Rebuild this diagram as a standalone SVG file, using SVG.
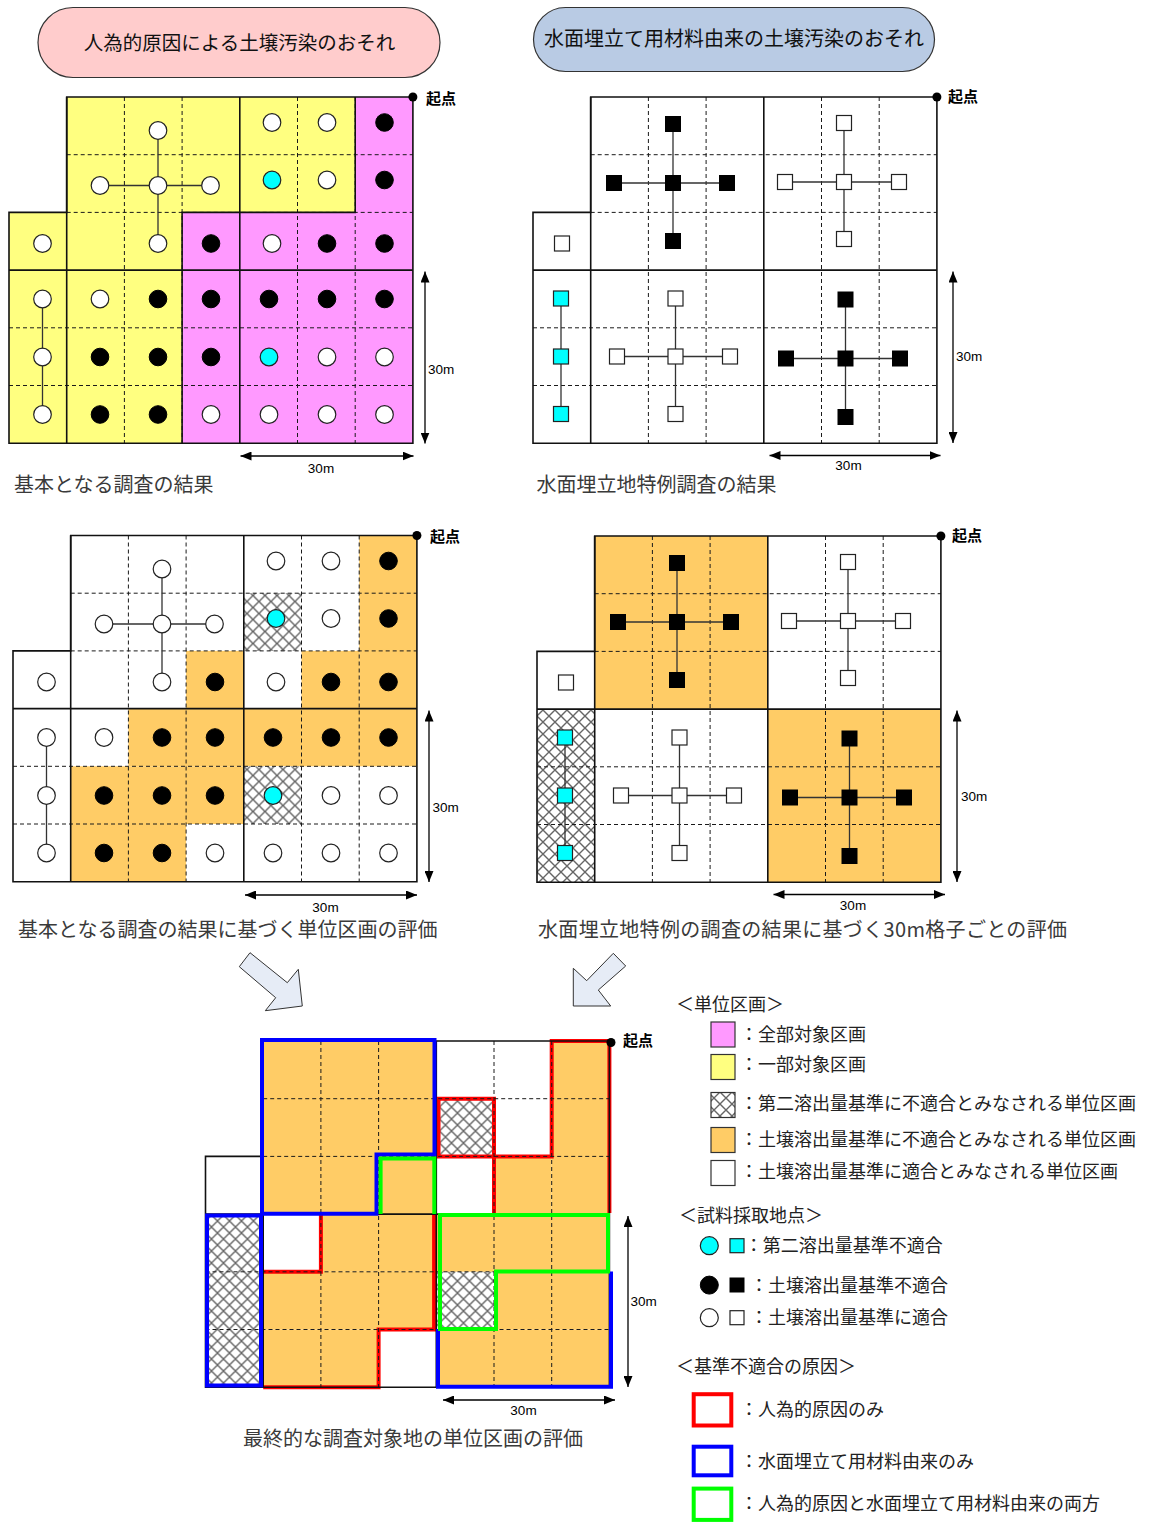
<svg xmlns="http://www.w3.org/2000/svg" width="1152" height="1528" viewBox="0 0 1152 1528">
<style>
.d{fill:none;stroke:#1a1a1a;stroke-width:1;stroke-dasharray:4 3}
.s{fill:none;stroke:#111;stroke-width:1.6}
.cn{fill:none;stroke:#333;stroke-width:1.3}
.w{fill:#fff;stroke:#222;stroke-width:1.2}
.k{fill:#000;stroke:#000;stroke-width:1}
.cy{fill:#00FFFF;stroke:#222;stroke-width:1.2}
.or{fill:#FFCC66}
.ht{fill:url(#hatch)}
.cr{fill:none;stroke:#FF0000;stroke-width:4}
.cb{fill:none;stroke:#0000FF;stroke-width:4}
.cg{fill:none;stroke:#00FF00;stroke-width:4}
.dim{stroke:#000;stroke-width:1.3;marker-start:url(#ah);marker-end:url(#ah)}
.m{font-family:"Liberation Sans",Arial,sans-serif;font-size:13.5px;fill:#000}
.ori{font-family:"Noto Sans CJK JP",sans-serif;font-size:15px;font-weight:bold;fill:#000}
.cap{font-family:"Noto Sans CJK JP",sans-serif;font-size:20px;fill:#3a3a3a}
.ttl{font-family:"Noto Sans CJK JP",sans-serif;font-size:19.5px;fill:#111;text-anchor:middle}
.lg{font-family:"Noto Sans CJK JP",sans-serif;font-size:18px;fill:#222}
.sw{stroke:#333;stroke-width:1.2}
.blk{fill:#E6ECF6;stroke:#333;stroke-width:1}
</style>
<defs>
<pattern id="hatch" patternUnits="userSpaceOnUse" width="12" height="12">
<rect width="12" height="12" fill="#fff"/>
<path d="M-3,-3L15,15M15,-3L-3,15" stroke="#666" stroke-width="1.4"/>
</pattern>
<marker id="ah" markerUnits="userSpaceOnUse" markerWidth="11" markerHeight="9" refX="11" refY="4.5" orient="auto-start-reverse">
<path d="M0,0L11,4.5L0,9Z" fill="#000"/>
</marker>
<g id="grid">
<path class="d" d="M115.4,0V346.2M173.1,0V346.2M288.5,0V346.2M346.2,0V346.2M57.7,57.7H403.9M57.7,115.4H403.9M0,230.8H403.9M0,288.5H403.9"/>
<path class="s" d="M57.7,0V346.2M230.8,0V346.2M0,173.1H403.9"/>
<polygon class="s" points="57.7,0 403.9,0 403.9,346.2 0,346.2 0,115.4 57.7,115.4"/>
</g>
<polygon id="outline" points="57.7,0 403.9,0 403.9,346.2 0,346.2 0,115.4 57.7,115.4"/>
<g id="ptsA">
<path class="cn" d="M149,33.5V146.5M91,88.5H201.5M33.5,202V317.5"/>
<circle class="w" cx="149" cy="33.5" r="8.8"/>
<circle class="w" cx="91" cy="88.5" r="8.8"/>
<circle class="w" cx="149" cy="88.5" r="8.8"/>
<circle class="w" cx="201.5" cy="88.5" r="8.8"/>
<circle class="w" cx="149" cy="146.5" r="8.8"/>
<circle class="w" cx="263" cy="25.5" r="8.8"/>
<circle class="w" cx="318" cy="25.5" r="8.8"/>
<circle class="k" cx="375.5" cy="25.5" r="8.8"/>
<circle class="cy" cx="263" cy="83" r="8.8"/>
<circle class="w" cx="318" cy="83" r="8.8"/>
<circle class="k" cx="375.5" cy="83" r="8.8"/>
<circle class="w" cx="33.5" cy="146.5" r="8.8"/>
<circle class="k" cx="202" cy="146.5" r="8.8"/>
<circle class="w" cx="263" cy="146.5" r="8.8"/>
<circle class="k" cx="318" cy="146.5" r="8.8"/>
<circle class="k" cx="375.5" cy="146.5" r="8.8"/>
<circle class="w" cx="33.5" cy="202" r="8.8"/>
<circle class="w" cx="91" cy="202" r="8.8"/>
<circle class="k" cx="149" cy="202" r="8.8"/>
<circle class="k" cx="202" cy="202" r="8.8"/>
<circle class="k" cx="260" cy="202" r="8.8"/>
<circle class="k" cx="318" cy="202" r="8.8"/>
<circle class="k" cx="375.5" cy="202" r="8.8"/>
<circle class="w" cx="33.5" cy="260" r="8.8"/>
<circle class="k" cx="91" cy="260" r="8.8"/>
<circle class="k" cx="149" cy="260" r="8.8"/>
<circle class="k" cx="202" cy="260" r="8.8"/>
<circle class="cy" cx="260" cy="260" r="8.8"/>
<circle class="w" cx="318" cy="260" r="8.8"/>
<circle class="w" cx="375.5" cy="260" r="8.8"/>
<circle class="w" cx="33.5" cy="317.5" r="8.8"/>
<circle class="k" cx="91" cy="317.5" r="8.8"/>
<circle class="k" cx="149" cy="317.5" r="8.8"/>
<circle class="w" cx="202" cy="317.5" r="8.8"/>
<circle class="w" cx="260" cy="317.5" r="8.8"/>
<circle class="w" cx="318" cy="317.5" r="8.8"/>
<circle class="w" cx="375.5" cy="317.5" r="8.8"/>
</g>
<g id="ptsB">
<path class="cn" d="M140,27V144M81,86H194M311,26V142M252,85H366M28,201.5V317M142.5,201.5V317M84,259.5H197M312.5,202.5V320M253,261.5H367"/>
<rect class="k" x="132.5" y="19.5" width="15" height="15"/>
<rect class="k" x="73.5" y="78.5" width="15" height="15"/>
<rect class="k" x="132.5" y="78.5" width="15" height="15"/>
<rect class="k" x="186.5" y="78.5" width="15" height="15"/>
<rect class="k" x="132.5" y="136.5" width="15" height="15"/>
<rect class="k" x="305" y="195" width="15" height="15"/>
<rect class="k" x="245.5" y="254" width="15" height="15"/>
<rect class="k" x="305" y="254" width="15" height="15"/>
<rect class="k" x="359.5" y="254" width="15" height="15"/>
<rect class="k" x="305" y="312.5" width="15" height="15"/>
<rect class="w" x="303.5" y="18.5" width="15" height="15"/>
<rect class="w" x="244.5" y="77.5" width="15" height="15"/>
<rect class="w" x="303.5" y="77.5" width="15" height="15"/>
<rect class="w" x="358.5" y="77.5" width="15" height="15"/>
<rect class="w" x="303.5" y="134.5" width="15" height="15"/>
<rect class="w" x="21.5" y="139" width="15" height="15"/>
<rect class="w" x="135" y="194" width="15" height="15"/>
<rect class="w" x="76.5" y="252" width="15" height="15"/>
<rect class="w" x="135" y="252" width="15" height="15"/>
<rect class="w" x="189.5" y="252" width="15" height="15"/>
<rect class="w" x="135" y="309.5" width="15" height="15"/>
<rect class="cy" x="20.5" y="194" width="15" height="15"/>
<rect class="cy" x="20.5" y="252" width="15" height="15"/>
<rect class="cy" x="20.5" y="309.5" width="15" height="15"/>
</g>
</defs>
<rect width="1152" height="1528" fill="#fff"/>

<g id="title1">
<rect x="38" y="7.5" width="402" height="70" rx="35" fill="#FFCCCC" stroke="#333" stroke-width="1.2"/>
<text class="ttl" x="239.5" y="49.5">人為的原因による土壌汚染のおそれ</text>
</g>
<g id="title2">
<rect x="533.5" y="7.5" width="401" height="64" rx="32" fill="#B9CBE4" stroke="#333" stroke-width="1.2"/>
<text class="ttl" x="734" y="46" style="font-size:20px">水面埋立て用材料由来の土壌汚染のおそれ</text>
</g>

<g id="panel1">
<g transform="translate(9,97)">
<polygon points="57.7,0 346.2,0 346.2,115.4 173.1,115.4 173.1,346.2 0,346.2 0,115.4 57.7,115.4" fill="#FFFF80"/>
<polygon points="346.2,0 403.9,0 403.9,346.2 173.1,346.2 173.1,115.4 346.2,115.4" fill="#FF99FF"/>
<use href="#grid"/>
<path class="s" d="M173.1,346.2V115.4H346.2V0"/>
<use href="#ptsA"/>
<circle cx="403.9" cy="0" r="4.5" fill="#000"/>
</g>
<text class="ori" x="426" y="104">起点</text>
<line class="dim" x1="425" y1="271.5" x2="425" y2="443.5"/>
<line class="dim" x1="240.5" y1="456" x2="413.5" y2="456"/>
<text class="m" x="428" y="374">30m</text>
<text class="m" x="321" y="473" text-anchor="middle">30m</text>
<text class="cap" x="14" y="492">基本となる調査の結果</text>
</g>

<g id="panel2">
<g transform="translate(533,97)">
<use href="#outline" fill="#fff"/>
<use href="#grid"/>
<use href="#ptsB"/>
<circle cx="403.9" cy="0" r="4.5" fill="#000"/>
</g>
<text class="ori" x="948" y="102">起点</text>
<line class="dim" x1="953" y1="271.5" x2="953" y2="443"/>
<line class="dim" x1="769.5" y1="455.5" x2="940.5" y2="455.5"/>
<text class="m" x="956" y="361">30m</text>
<text class="m" x="848.5" y="470" text-anchor="middle">30m</text>
<text class="cap" x="536.5" y="492">水面埋立地特例調査の結果</text>
</g>

<g id="panel3">
<g transform="translate(13,535.5)">
<use href="#outline" fill="#fff"/>
<rect class="or" x="346.2" y="0" width="57.7" height="173.1"/>
<rect class="or" x="173.1" y="115.4" width="57.7" height="57.7"/>
<rect class="or" x="288.5" y="115.4" width="57.7" height="57.7"/>
<rect class="or" x="115.4" y="173.1" width="288.5" height="57.7"/>
<rect class="or" x="57.7" y="230.8" width="173.1" height="57.7"/>
<rect class="or" x="57.7" y="288.5" width="115.4" height="57.7"/>
<rect class="ht" x="230.8" y="57.7" width="57.7" height="57.7"/>
<rect class="ht" x="230.8" y="230.8" width="57.7" height="57.7"/>
<use href="#grid"/>
<use href="#ptsA"/>
<circle cx="403.9" cy="0" r="4.5" fill="#000"/>
</g>
<text class="ori" x="430" y="542">起点</text>
<line class="dim" x1="429" y1="710.5" x2="429" y2="882"/>
<line class="dim" x1="245" y1="895" x2="417" y2="895"/>
<text class="m" x="432.5" y="812">30m</text>
<text class="m" x="325.5" y="911.5" text-anchor="middle">30m</text>
<text class="cap" x="18" y="936.5">基本となる調査の結果に基づく単位区画の評価</text>
</g>

<g id="panel4">
<g transform="translate(537,536)">
<use href="#outline" fill="#fff"/>
<rect class="or" x="57.7" y="0" width="173.1" height="173.1"/>
<rect class="or" x="230.8" y="173.1" width="173.1" height="173.1"/>
<rect class="ht" x="0" y="173.1" width="57.7" height="173.1"/>
<use href="#grid"/>
<use href="#ptsB"/>
<circle cx="403.9" cy="0" r="4.5" fill="#000"/>
</g>
<text class="ori" x="952" y="541">起点</text>
<line class="dim" x1="957" y1="710.5" x2="957" y2="882"/>
<line class="dim" x1="773.5" y1="894.5" x2="945" y2="894.5"/>
<text class="m" x="961" y="801">30m</text>
<text class="m" x="853" y="910" text-anchor="middle">30m</text>
<text class="cap" x="538" y="936.5" textLength="529">水面埋立地特例の調査の結果に基づく30m格子ごとの評価</text>
</g>

<g id="arrow-left">
<polygon class="blk" points="250,952.7 287.3,982.7 298.3,969.3 302.3,1006 265.3,1010.7 275.7,997.7 239.3,966.7"/>
</g>
<g id="arrow-right">
<polygon class="blk" points="613.3,953.3 625.7,966 598.3,990 610.7,1006 573.3,1006 573.3,968.3 586.7,980.7"/>
</g>

<g id="panel5">
<g transform="translate(205.5,1041)">
<use href="#outline" fill="#fff"/>
<rect class="or" x="57.7" y="0" width="173.1" height="173.1"/>
<rect class="or" x="346.2" y="0" width="57.7" height="173.1"/>
<rect class="or" x="288.5" y="115.4" width="57.7" height="57.7"/>
<rect class="or" x="115.4" y="173.1" width="288.5" height="57.7"/>
<rect class="or" x="57.7" y="230.8" width="173.1" height="57.7"/>
<rect class="or" x="288.5" y="230.8" width="115.4" height="57.7"/>
<rect class="or" x="57.7" y="288.5" width="115.4" height="57.7"/>
<rect class="or" x="230.8" y="288.5" width="173.1" height="57.7"/>
<rect class="ht" x="230.8" y="57.7" width="57.7" height="57.7"/>
<rect class="ht" x="0" y="173.1" width="57.7" height="173.1"/>
<rect class="ht" x="230.8" y="230.8" width="57.7" height="57.7"/>
<g id="red-outlines">
<path class="cr" d="M288.5,172V57.7H233V115.4H346.2V0H403.9V172"/>
<path class="cr" d="M115.4,174V230.8H57.7M57.7,346.2H173.1V288.5H228.6V174"/>
</g>
<use href="#grid"/>
<g id="blue-outlines">
<path class="cb" d="M56.5,172.8V-1H229V113.4H171V172.8Z"/>
<rect class="cb" x="1.5" y="174.5" width="54" height="170"/>
<path class="cb" d="M405.5,230.5V345.7H232.5V288"/>
</g>
<g id="green-outlines">
<path class="cg" d="M175.1,173.1V117.4H228.8V173.1"/>
<path class="cg" d="M234.5,174H402.5V230.5H290.5V288H234.5Z"/>
</g>
<circle cx="405.5" cy="1.5" r="4.5" fill="#000"/>
</g>
<text class="ori" x="623" y="1046">起点</text>
<line class="dim" x1="628" y1="1216" x2="628" y2="1387"/>
<line class="dim" x1="443" y1="1400" x2="615" y2="1400"/>
<text class="m" x="630.5" y="1305.5">30m</text>
<text class="m" x="523.5" y="1415" text-anchor="middle">30m</text>
<text class="cap" x="243" y="1445.5">最終的な調査対象地の単位区画の評価</text>
</g>

<g id="legend">
<text class="lg" x="676" y="1011">＜単位区画＞</text>
<rect class="sw" x="711" y="1022" width="24" height="25" fill="#FF99FF"/>
<text class="lg" x="740" y="1041">：全部対象区画</text>
<rect class="sw" x="711" y="1054.5" width="24" height="25" fill="#FFFF80"/>
<text class="lg" x="740" y="1070.5">：一部対象区画</text>
<rect class="sw ht" x="711" y="1092.5" width="24" height="25"/>
<text class="lg" x="740" y="1109.5">：第二溶出量基準に不適合とみなされる単位区画</text>
<rect class="sw" x="711" y="1127.5" width="24" height="25" fill="#FFCC66"/>
<text class="lg" x="740" y="1145.5">：土壌溶出量基準に不適合とみなされる単位区画</text>
<rect class="sw" x="711" y="1160.5" width="24" height="25" fill="#fff"/>
<text class="lg" x="740" y="1178">：土壌溶出量基準に適合とみなされる単位区画</text>
<text class="lg" x="679" y="1222">＜試料採取地点＞</text>
<circle class="cy" cx="709.3" cy="1245.7" r="9"/>
<rect class="cy" x="730" y="1238.7" width="14" height="14"/>
<text class="lg" x="744.7" y="1252">：第二溶出量基準不適合</text>
<circle class="k" cx="709.3" cy="1285.1" r="9"/>
<rect class="k" x="730" y="1278" width="14" height="14"/>
<text class="lg" x="750" y="1291.5">：土壌溶出量基準不適合</text>
<circle class="w" cx="709.3" cy="1317.7" r="9"/>
<rect class="w" x="730" y="1310.7" width="14" height="14"/>
<text class="lg" x="750" y="1324">：土壌溶出量基準に適合</text>
<text class="lg" x="676" y="1373">＜基準不適合の原因＞</text>
<rect class="cr" x="693.7" y="1394.2" width="37.6" height="31.3"/>
<text class="lg" x="740" y="1416">：人為的原因のみ</text>
<rect class="cb" x="693.7" y="1446.7" width="37.6" height="28.6"/>
<text class="lg" x="740" y="1468">：水面埋立て用材料由来のみ</text>
<rect class="cg" x="693.7" y="1488.6" width="37.6" height="31.3"/>
<text class="lg" x="740" y="1510">：人為的原因と水面埋立て用材料由来の両方</text>
</g>
</svg>
